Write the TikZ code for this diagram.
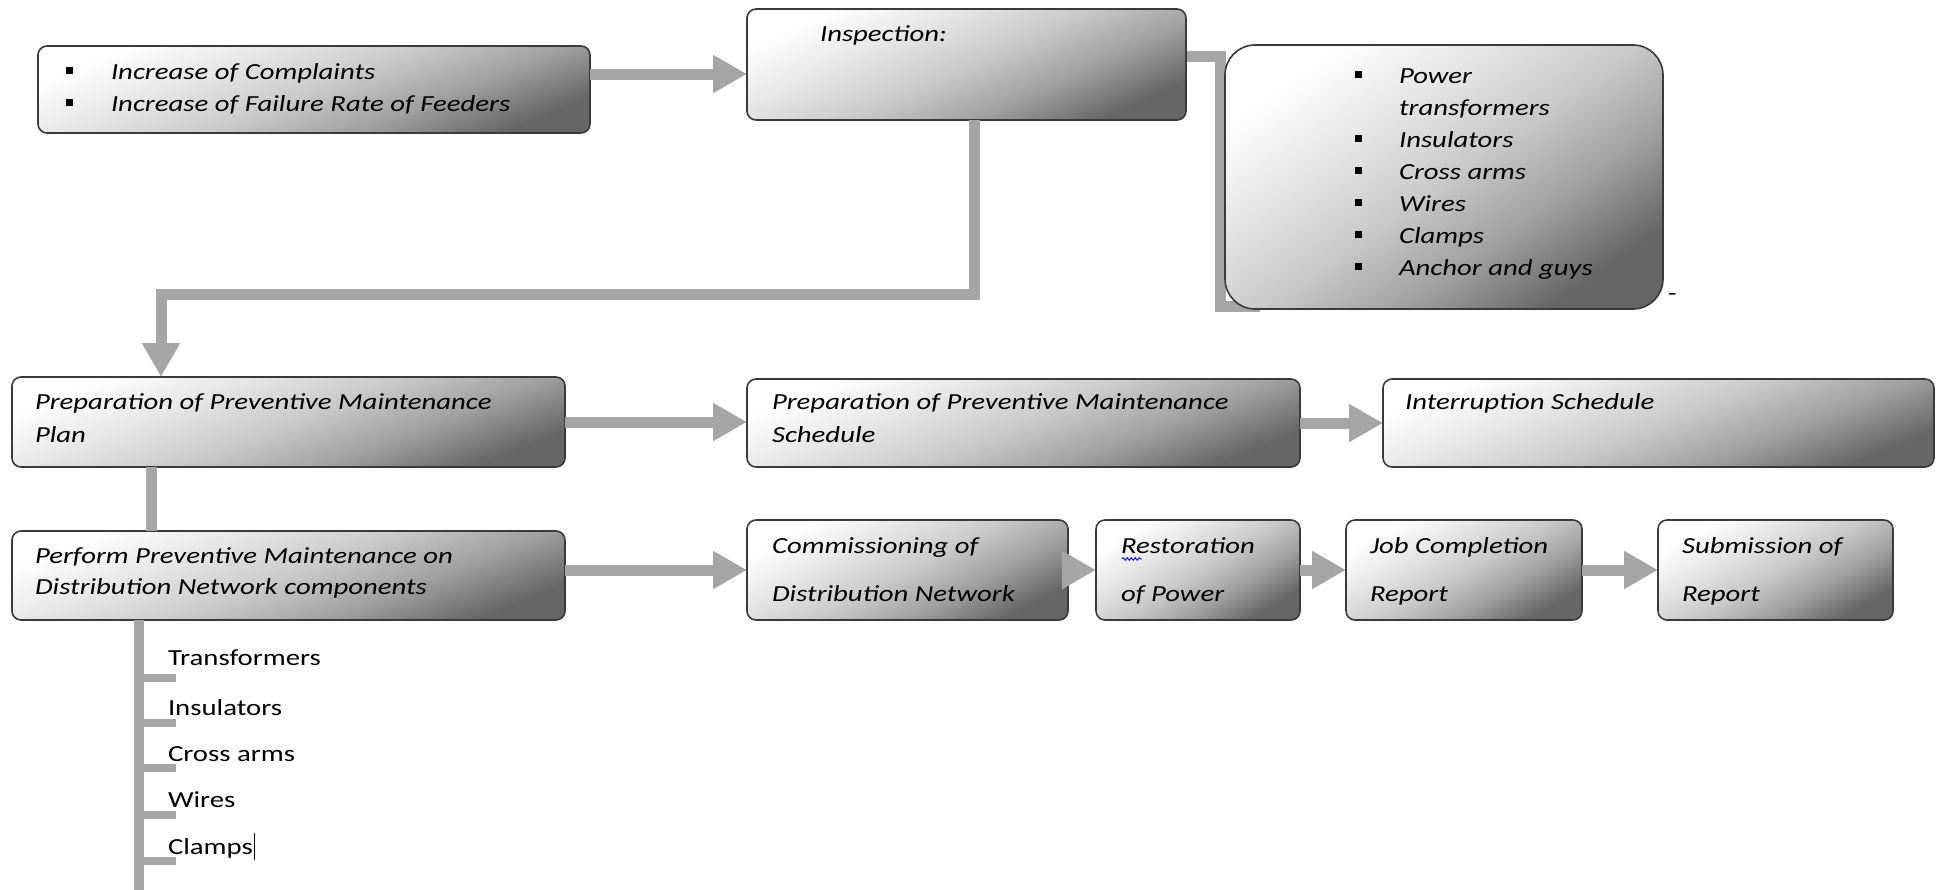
\documentclass[tikz,border=0pt]{standalone}
\usepackage{fontspec}
\setmainfont{Carlito}[FakeStretch=1.25]
\usetikzlibrary{arrows.meta,calc,fit,backgrounds,decorations.pathmorphing}
\definecolor{connc}{HTML}{A6A6A6}
\definecolor{edgec}{HTML}{3A3A3A}
\definecolor{sha}{HTML}{E6E6E6}
\definecolor{shb}{HTML}{CACACA}
\definecolor{shc}{HTML}{A0A0A0}
\definecolor{shd}{HTML}{666666}
\pgfdeclareverticalshading{boxsh}{100bp}{color(0bp)=(shd); color(25bp)=(shd); color(37.5bp)=(shc); color(50bp)=(shb); color(62.5bp)=(sha); color(75bp)=(white); color(100bp)=(white)}
\newcommand\stackl[2]{\vtop{\baselineskip=#1\lineskiplimit=-100pt\lineskip=0pt #2}}
\newcommand\sqb{\raisebox{5pt}{\rule{7pt}{7pt}}}
\begin{document}
\begin{tikzpicture}[x=1pt,y=-1pt]
\tikzset{
  box/.style={draw=edgec, line width=1.6pt, rounded corners=9pt,
    shade, shading=boxsh, shading angle=#1,
    inner sep=0pt, outer sep=0pt},
  box/.default=22,
  conn/.style={draw=connc, line width=11pt},
  arr/.style={conn, -{Triangle[length=34pt,width=36pt]}},
  tick/.style={draw=connc, line width=8pt},
  tx/.style={anchor=base west, inner sep=0pt, outer sep=0pt, font=\fontsize{23}{33}\selectfont\itshape},
  ut/.style={anchor=base west, inner sep=0pt, outer sep=0pt, font=\fontsize{23}{33}\selectfont},
}
\useasboundingbox (0,0) rectangle (1937,889);

% boxes
\node[box, fit={(38,46) (590,133)}] (A) {};
\node[box=25, fit={(747,9) (1186,120)}] (insp) {};
\node[box=35, rounded corners=30pt, fit={(1225,45) (1663,309)}] (list) {};
\node[box, fit={(12,377) (565,467)}] (plan) {};
\node[box, fit={(747,379) (1300,467)}] (sched) {};
\node[box, fit={(1383,379) (1934,467)}] (intr) {};
\node[box, fit={(12,531) (565,620)}] (perf) {};
\node[box=28, fit={(747,520) (1068,620)}] (comm) {};
\node[box=32, fit={(1096,520) (1300,620)}] (rest) {};
\node[box=30, fit={(1346,520) (1582,620)}] (job) {};
\node[box=30, fit={(1658,520) (1893,620)}] (sub) {};

% texts
\node[tx] (tAb) at (66,79) {\stackl{32pt}{\hbox{\sqb}\hbox{\sqb}}};
\node[tx] (tA) at (111,79) {\stackl{32pt}{\hbox{Increase of Complaints}\hbox{Increase of Failure Rate of Feeders}}};
\node[tx] (tinsp) at (820,41) {Inspection:};
\node[tx] (tlb) at (1355,83) {\stackl{32pt}{\hbox{\sqb}\hbox{}\hbox{\sqb}\hbox{\sqb}\hbox{\sqb}\hbox{\sqb}\hbox{\sqb}}};
\node[tx] (tl) at (1399,83) {\stackl{32pt}{\hbox{Power}\hbox{transformers}\hbox{Insulators}\hbox{Cross arms}\hbox{Wires}\hbox{Clamps}\hbox{Anchor and guys}}};
\node[ut, font=\fontsize{22}{22}\selectfont] (tdash) at (1668,300) {-};
\node[tx] (tplan) at (35,409) {\stackl{33pt}{\hbox{Preparation of Preventive Maintenance}\hbox{Plan}}};
\node[tx] (tsched) at (772,409) {\stackl{33pt}{\hbox{Preparation of Preventive Maintenance}\hbox{Schedule}}};
\node[tx] (tintr) at (1405,409) {Interruption Schedule};
\node[tx] (tperf) at (35,563) {\stackl{31pt}{\hbox{Perform Preventive Maintenance on}\hbox{Distribution Network components}}};
\node[tx] (tcomm) at (772,553) {\stackl{48pt}{\hbox{Commissioning of}\hbox{Distribution Network}}};
\node[tx] (trest) at (1121,553) {\stackl{48pt}{\hbox{Restoration}\hbox{of Power}}};
\node[tx] (tjob) at (1370,553) {\stackl{48pt}{\hbox{Job Completion}\hbox{Report}}};
\node[tx] (tsub) at (1682,553) {\stackl{48pt}{\hbox{Submission of}\hbox{Report}}};
\draw[blue, line width=0.9pt, decorate, decoration={snake, amplitude=1.3pt, segment length=4pt}]
  ([shift={(1pt,-6pt)}]trest.base west) -- ++(20,0);

\node[ut] (l1) at (168,665) {Transformers};
\node[ut] (l2) at (168,715) {Insulators};
\node[ut] (l3) at (168,761) {Cross arms};
\node[ut] (l4) at (168,807) {Wires};
\node[ut] (l5) at (168,854) {Clamps};
\draw[black, line width=1.2pt] ([xshift=2pt]l5.base east) ++(0,6) -- ++(0,-27);

% bracket from inspection to list box (behind)
\begin{scope}[on background layer]
\coordinate (b0) at ([yshift=8.5pt]insp.east);
\path (b0 -| list.west) ++(-5,0) coordinate (b1);
\path (b1 |- list.south) ++(0,-3) coordinate (b2);
\path (b2) ++(40,0) coordinate (b3);
\draw[conn] (b0) -- (b1) -- (b2) -- (b3);
\end{scope}

% connectors
\coordinate (a0) at ([yshift=15.5pt]A.east);
\draw[arr] (a0) -- (a0 -| insp.west);

\coordinate (c0) at ([xshift=7.5pt]insp.south);
\path (c0) ++(0,174) coordinate (c1);
\path (plan.north) ++(-127.5,0) coordinate (c3);
\draw[arr] (c0) -- (c1) -- (c1 -| c3) -- (c3);

\draw[arr] (plan.east) -- (plan.east -| sched.west);
\draw[arr] (sched.east) -- (intr.west);

\path (plan.south) ++(-137.5,0) coordinate (d0);
\draw[conn] (d0) -- (d0 |- perf.north);

\draw[arr] (perf.east |- comm.west) -- (comm.west);
\draw[arr] (comm.east) -- (rest.west);
\draw[arr] (rest.east) -- (job.west);
\draw[arr] (job.east) -- (sub.west);

% component list bracket
\path (perf.south) ++(-149.5,0) coordinate (e0);
\path (e0) ++(0,275) coordinate (e1);
\draw[conn, line width=10pt] (e0) -- (e1);
\foreach \dy [count=\i] in {58,103,148,195,241} {
  \path (e0) ++(-4,\dy) coordinate (k\i);
  \draw[tick] (k\i) -- ++(41,0);
}
\end{tikzpicture}
\end{document}
